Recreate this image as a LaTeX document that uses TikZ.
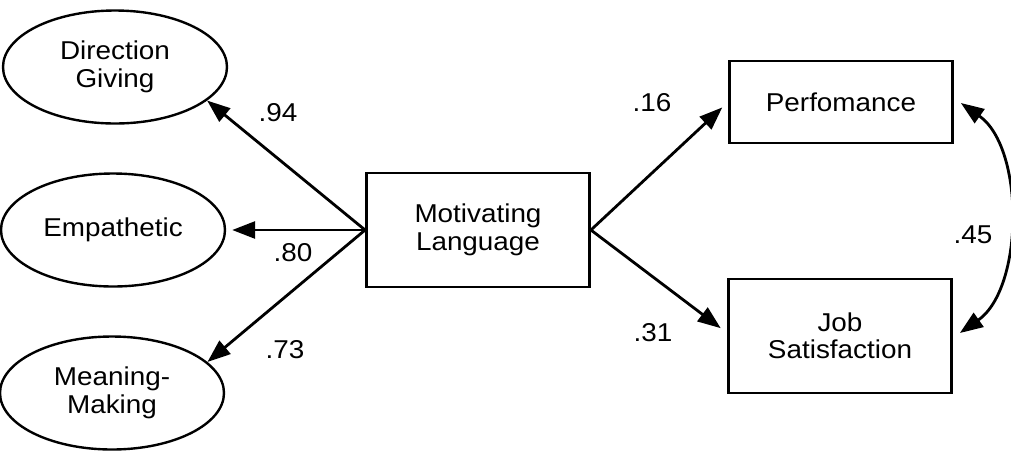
\documentclass[tikz,border=0pt]{standalone}
\usepackage{fontspec}
\setmainfont{Liberation Sans}[FakeStretch=1.08]
\usetikzlibrary{shapes.geometric,arrows.meta,calc}
\begin{document}
\begin{tikzpicture}[x=1pt,y=-1pt,
  every node/.style={font=\fontsize{25.8}{27.5}\selectfont, align=center, inner sep=0pt},
  latent/.style={draw, ellipse, line width=2.4pt, minimum width=224pt, minimum height=113pt},
  obs/.style={draw, rectangle, line width=2.8pt, minimum width=223pt},
  path/.style={line width=2.8pt, -{Triangle[length=23pt,width=17pt]}},
  cov/.style={line width=2.8pt, {Triangle[length=23pt,width=17pt]}-{Triangle[length=23pt,width=17pt]}},
  coef/.style={}]
\useasboundingbox (0,0) rectangle (1011,451);
\node[latent] (dg) at (115,67) {Direction\\Giving};
\node[latent] (emp) at (113,230) {Empathetic};
\node[latent] (mm) at (112,393) {Meaning-\\Making};
\node[obs, minimum height=114pt] (ml) at (478,230) {Motivating\\Language};
\node[obs, minimum height=82pt] (perf) at (841,102) {Perfomance};
\node[obs, minimum height=114pt] (js) at (840,336) {Job\\Satisfaction};
\draw[path] (ml.west) -- (dg.-20);
\draw[path] (ml.west) -- ($(emp.east)+(6,0)$);
\draw[path] (ml.west) -- (mm.18);
\draw[path, shorten >=8pt] (ml.east) -- (perf.west);
\draw[path, shorten >=8pt] (ml.east) -- ($(js.west)+(0,-3)$);
\draw[cov] ($(perf.east)+(7,1)$) .. controls +(64,45) and +(64,-45) .. ($(js.east)+(7,-3)$);
\node[coef] (c94) at (278,113) {.94};
\node[coef] (c80) at (293,253) {.80};
\node[coef] (c73) at (285,350) {.73};
\node[coef] (c16) at (652,103) {.16};
\node[coef] (c31) at (653,333) {.31};
\node[coef] (c45) at (973,235) {.45};
\end{tikzpicture}
\end{document}
